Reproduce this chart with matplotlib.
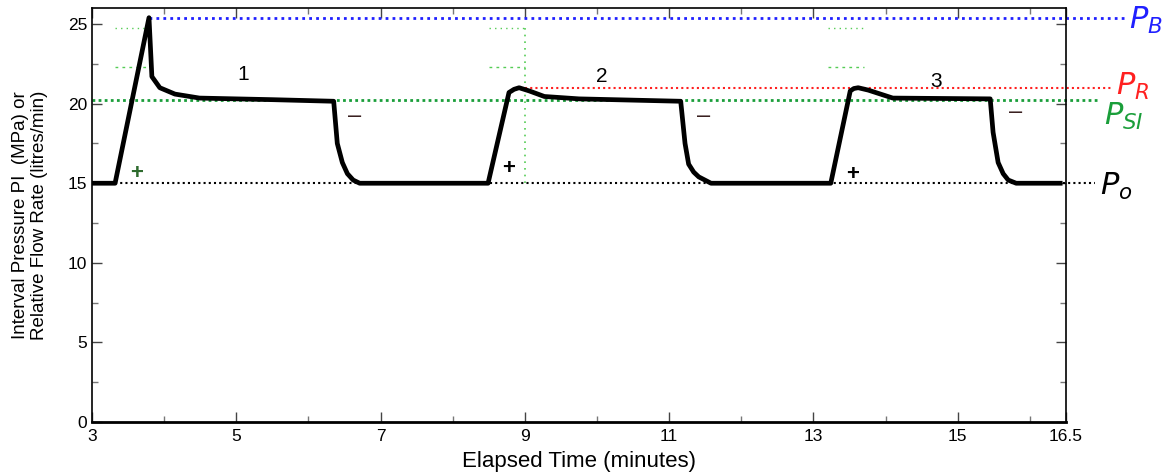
import numpy as np
import matplotlib.pyplot as plt
from matplotlib.ticker import MultipleLocator

plt.rcParams['font.family'] = ['Liberation Sans', 'DejaVu Sans']

# pressure trace (minutes, MPa)
t_trace = [3.0, 3.32, 3.79, 3.83, 3.94, 4.15, 4.49, 5.5, 6.35, 6.40, 6.47, 6.54, 6.62, 6.71,
           8.49, 8.78, 8.85, 8.92, 9.06, 9.27, 9.75, 11.16, 11.22, 11.27, 11.34, 11.41, 11.58,
           13.24, 13.51, 13.56, 13.62, 13.76, 14.1, 15.45, 15.49, 15.56, 15.63, 15.70, 15.81, 16.42]
p_trace = [15.0, 15.0, 25.4, 21.7, 21.0, 20.6, 20.35, 20.25, 20.15, 17.5, 16.3, 15.6, 15.2, 15.0,
           15.0, 20.7, 20.9, 21.0, 20.8, 20.45, 20.3, 20.15, 17.5, 16.2, 15.7, 15.4, 15.0,
           15.0, 20.8, 20.95, 21.0, 20.85, 20.35, 20.3, 18.2, 16.3, 15.6, 15.2, 15.0, 15.0]

# reference levels
p_b, p_r, p_si, p_o = 25.35, 21.0, 20.2, 15.0
cycle_labels = ['1', '2', '3']
cycle_t = [5.1, 10.07, 14.7]
cycle_p = [21.8, 21.7, 21.4]
plus_t = [3.62, 8.78, 13.54]
plus_p = [15.6, 15.9, 15.55]
minus_t = [6.64, 11.48, 15.8]
minus_p = [19.2, 19.2, 19.5]
guide_t = [(3.32, 3.8), (8.5, 9.0), (13.2, 13.7)]

fig = plt.figure(figsize=(11.66, 4.73), dpi=100)
ax = fig.add_axes([0.0789, 0.1078, 0.8353, 0.875])

# horizontal reference lines (extend past the axes on the right)
ax.plot([3.79, 17.3], [p_b, p_b], color='#2020ff', lw=2, ls=(0, (1, 1.5)), clip_on=False)
ax.plot([9.0, 17.15], [p_r, p_r], color='#ff2020', lw=1.5, ls=(0, (1, 1.5)), clip_on=False)
ax.plot([3.0, 16.95], [p_si, p_si], color='#1a9e3a', lw=2, ls=(0, (1, 1.2)), clip_on=False)
ax.plot([3.32, 16.9], [p_o, p_o], color='black', lw=1.5, ls=(0, (1, 1.5)), clip_on=False)

# small green guide ticks
for a, b in guide_t:
    ax.plot([a, b], [24.75, 24.75], color='#55cc55', lw=1, ls=(0, (1, 3)))
    ax.plot([a, b], [22.3, 22.3], color='#55cc55', lw=1, ls=(0, (2, 3)))
ax.plot([9.0, 9.0], [15.0, 25.0], color='#55cc55', lw=1.2, ls=(0, (1, 3)))

ax.plot(t_trace, p_trace, color='black', lw=3.4, solid_joinstyle='round')

for s, x, y in zip(cycle_labels, cycle_t, cycle_p):
    ax.text(x, y, s, fontsize=15, ha='center', va='center')
for i, (x, y) in enumerate(zip(plus_t, plus_p)):
    ax.text(x, y, '+', fontsize=16, fontweight='bold', ha='center', va='center',
            color='#2e6b2e' if i == 0 else 'black')
for x, y in zip(minus_t, minus_p):
    ax.text(x, y, '\u2013', fontsize=17, ha='center', va='center', color='#3a2020')

lab = dict(fontsize=22, ha='left', va='center', clip_on=False)
ax.text(17.38, 25.2, r'$P_B$', color='#2020ff', **lab)
ax.text(17.2, 21.1, r'$P_R$', color='#ff2020', **lab)
ax.text(17.03, 19.2, r'$P_{SI}$', color='#1a9e3a', **lab)
ax.text(16.97, 14.8, r'$P_o$', color='black', **lab)

ax.set_xlim(3, 16.5)
ax.set_ylim(0, 26)
ax.set_xticks([3, 5, 7, 9, 11, 13, 15, 16.5])
ax.set_xticklabels(['3', '5', '7', '9', '11', '13', '15', '16.5'])
ax.xaxis.set_minor_locator(MultipleLocator(1))
ax.set_yticks([0, 5, 10, 15, 20, 25])
ax.yaxis.set_minor_locator(MultipleLocator(2.5))
ax.tick_params(which='both', direction='in', top=True, right=True, labelsize=12.5)
ax.tick_params(which='major', length=7, width=1, color='#444444')
ax.tick_params(which='minor', length=4, width=1, color='#777777')
ax.tick_params(axis='x', pad=5)
for sp in ax.spines.values():
    sp.set_linewidth(1.2)
ax.spines['bottom'].set_linewidth(2)

ax.set_xlabel('Elapsed Time (minutes)', fontsize=16, labelpad=5)
ax.set_ylabel('Interval Pressure PI  (MPa) or\nRelative Flow Rate (litres/min)', fontsize=13.5, labelpad=14)

fig.savefig('out.png', dpi=100)
